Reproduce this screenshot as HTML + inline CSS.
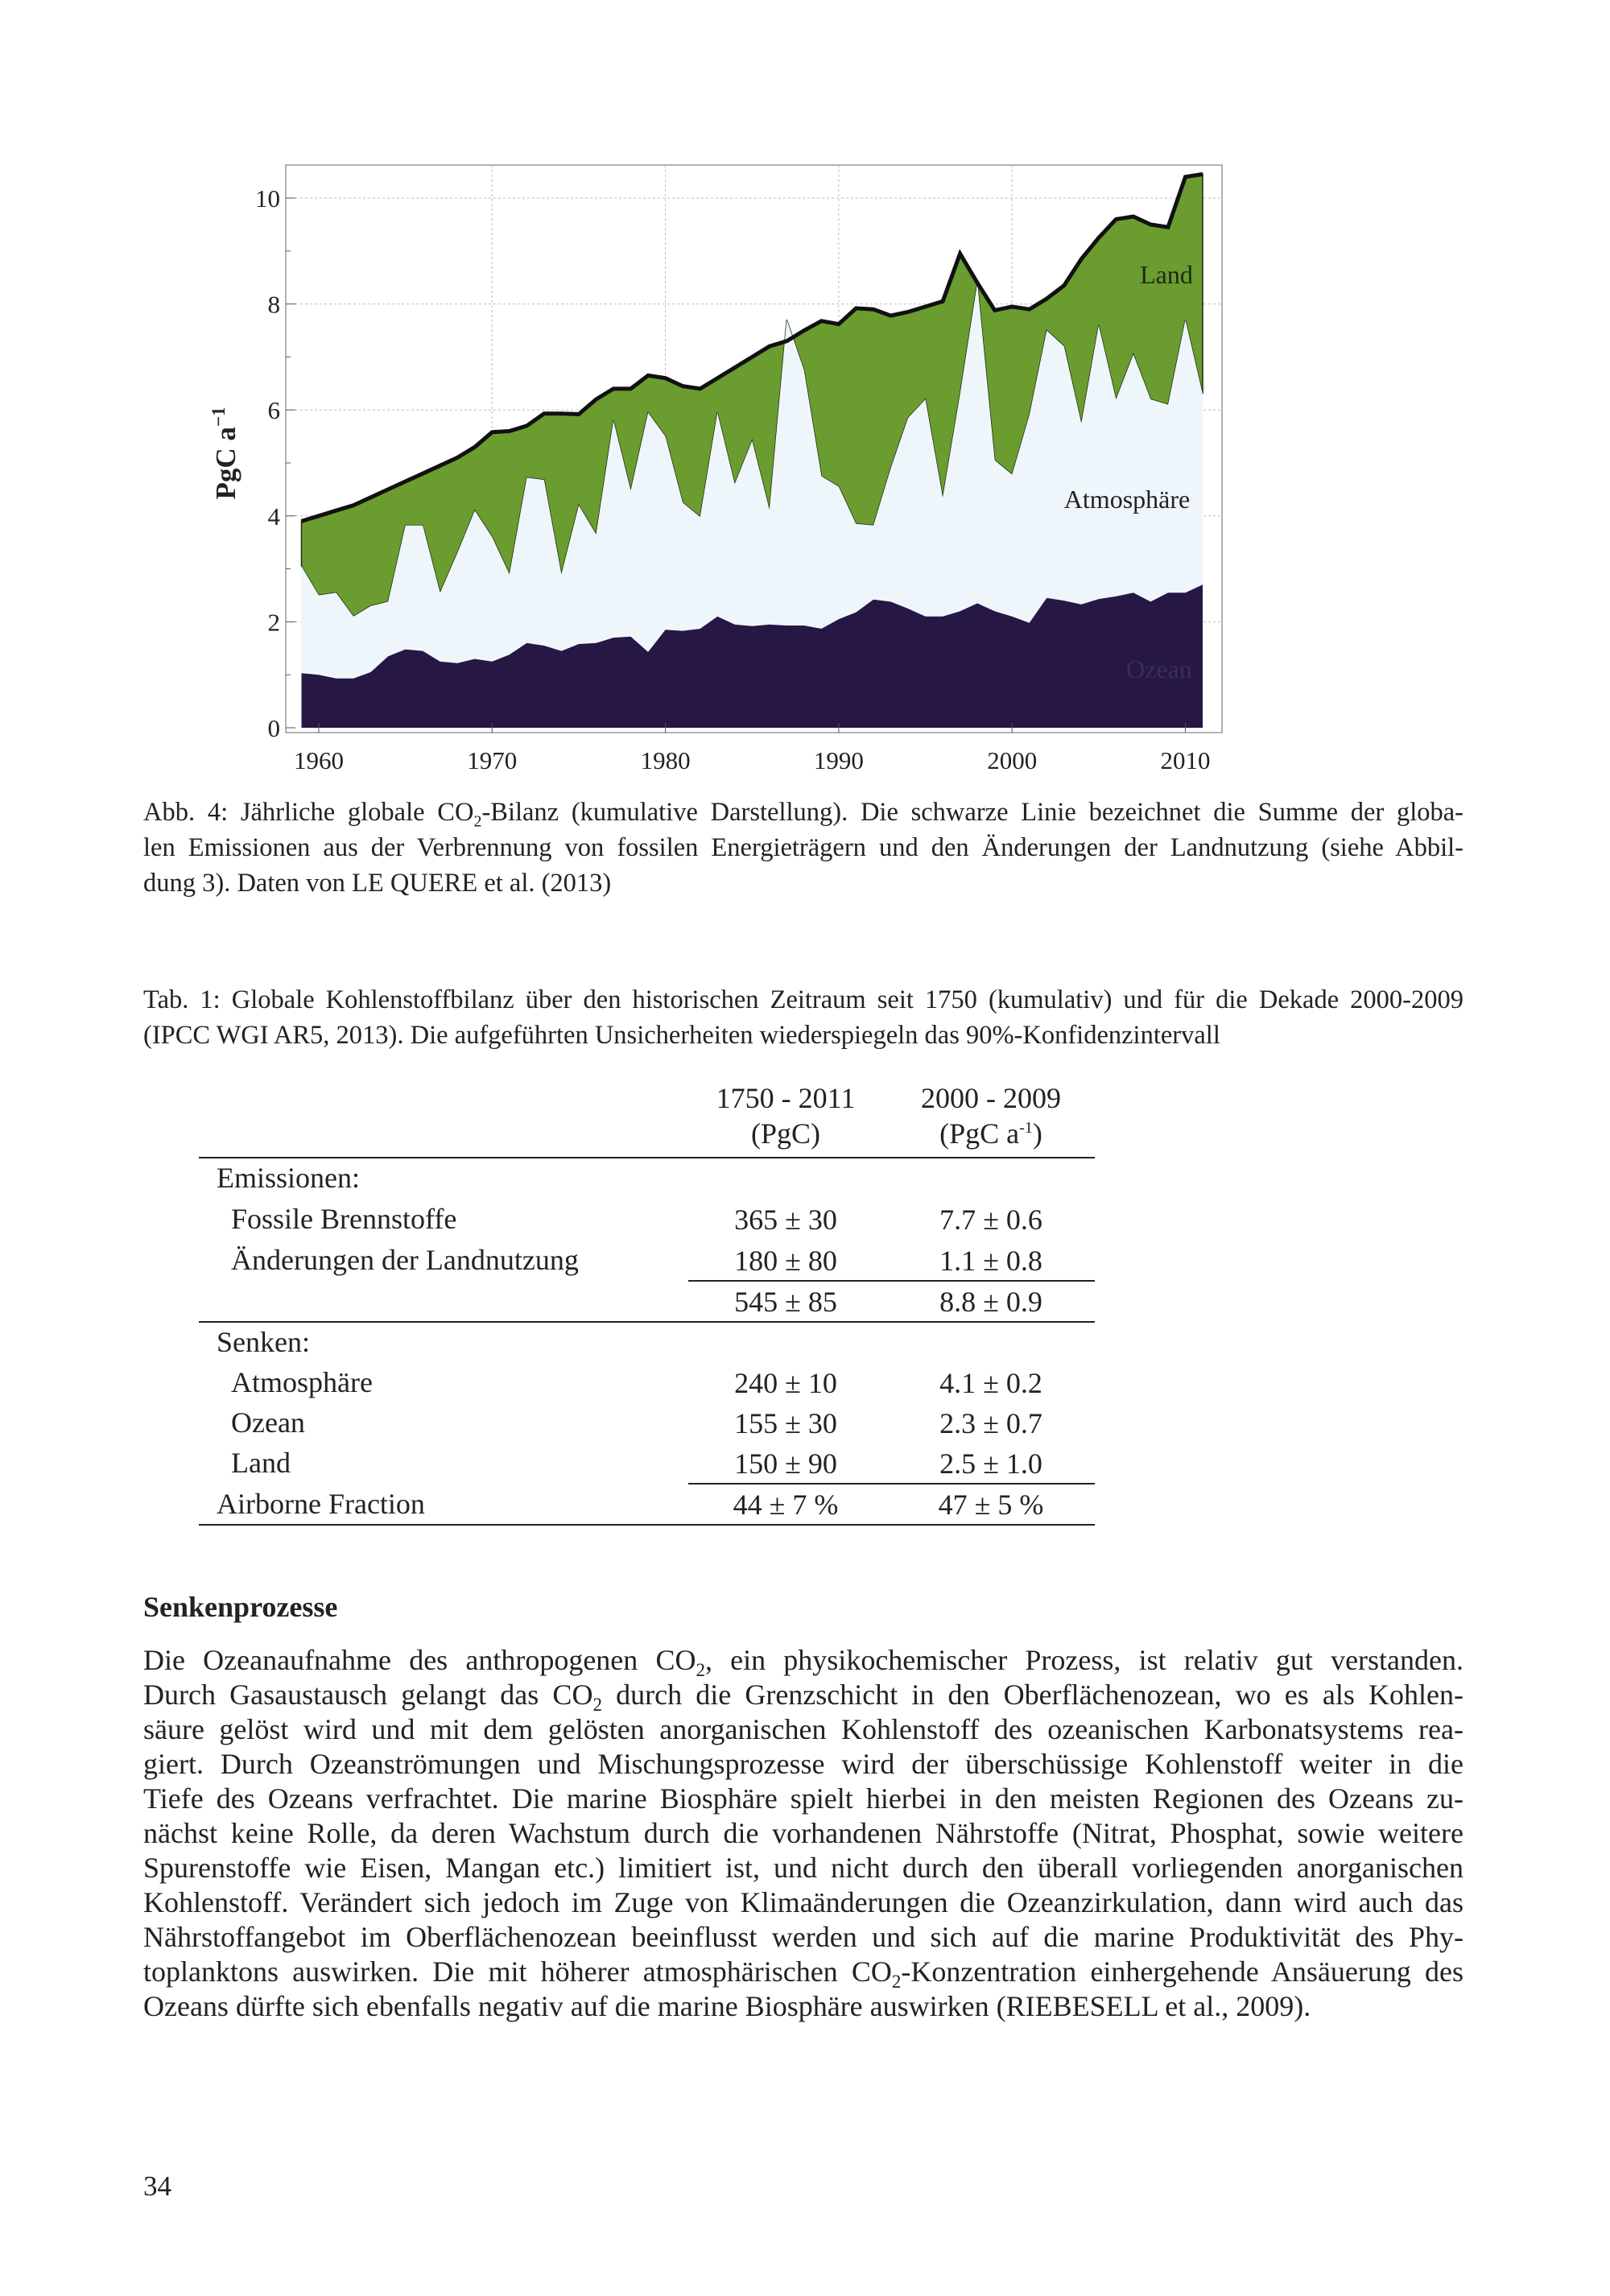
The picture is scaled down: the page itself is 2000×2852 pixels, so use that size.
<!DOCTYPE html>
<html><head><meta charset="utf-8">
<style>
body{margin:0;background:#fff;}
#pg{position:relative;width:2000px;height:2852px;overflow:hidden;background:#fff;font-family:"Liberation Serif",serif;color:#222;}
.t{position:absolute;white-space:nowrap;}
.cap{position:absolute;left:178px;width:1640px;font-size:32.5px;line-height:44px;}
.j{display:block;text-align:justify;text-align-last:justify;}
sub,sup{line-height:0;}
.tb{position:absolute;font-size:36px;line-height:40px;white-space:nowrap;}
.c1{position:absolute;width:300px;margin-left:-150px;text-align:center;font-size:36px;white-space:nowrap;}
.hl{position:absolute;height:2px;background:#222;}
.body{position:absolute;left:178px;width:1640px;font-size:36px;line-height:43px;top:2041px;}
</style></head><body><div id="pg">
<svg id="ch" width="2000" height="1000" style="position:absolute;left:0;top:0" xmlns="http://www.w3.org/2000/svg"></svg>

<div class="cap" style="top:987px">
<span class="j">Abb. 4: Jährliche globale CO<sub style="font-size:20px">2</sub>-Bilanz (kumulative Darstellung). Die schwarze Linie bezeichnet die Summe der globa-</span>
<span class="j">len Emissionen aus der Verbrennung von fossilen Energieträgern und den Änderungen der Landnutzung (siehe Abbil-</span>
<span>dung 3). Daten von LE QUERE et al. (2013)</span>
</div>
<div class="cap" style="top:1220px">
<span class="j">Tab. 1: Globale Kohlenstoffbilanz über den historischen Zeitraum seit 1750 (kumulativ) und für die Dekade 2000-2009</span>
<span>(IPCC WGI AR5, 2013). Die aufgeführten Unsicherheiten wiederspiegeln das 90%-Konfidenzintervall</span>
</div>

<div class="c1" style="left:976px;top:1343px">1750 - 2011</div>
<div class="c1" style="left:1231px;top:1343px">2000 - 2009</div>
<div class="c1" style="left:976px;top:1387px">(PgC)</div>
<div class="c1" style="left:1231px;top:1387px">(PgC a<sup style="font-size:20px">-1</sup>)</div>
<div class="hl" style="left:247px;width:1113px;top:1437px"></div>
<div class="tb" style="left:269px;top:1443px">Emissionen:</div>
<div class="tb" style="left:287px;top:1494px">Fossile Brennstoffe</div>
<div class="c1" style="left:976px;top:1494px">365 ± 30</div><div class="c1" style="left:1231px;top:1494px">7.7 ± 0.6</div>
<div class="tb" style="left:287px;top:1545px">Änderungen der Landnutzung</div>
<div class="c1" style="left:976px;top:1545px">180 ± 80</div><div class="c1" style="left:1231px;top:1545px">1.1 ± 0.8</div>
<div class="hl" style="left:855px;width:505px;top:1590px"></div>
<div class="c1" style="left:976px;top:1596px">545 ± 85</div><div class="c1" style="left:1231px;top:1596px">8.8 ± 0.9</div>
<div class="hl" style="left:247px;width:1113px;top:1641px"></div>
<div class="tb" style="left:269px;top:1647px">Senken:</div>
<div class="tb" style="left:287px;top:1697px">Atmosphäre</div>
<div class="c1" style="left:976px;top:1697px">240 ± 10</div><div class="c1" style="left:1231px;top:1697px">4.1 ± 0.2</div>
<div class="tb" style="left:287px;top:1747px">Ozean</div>
<div class="c1" style="left:976px;top:1747px">155 ± 30</div><div class="c1" style="left:1231px;top:1747px">2.3 ± 0.7</div>
<div class="tb" style="left:287px;top:1797px">Land</div>
<div class="c1" style="left:976px;top:1797px">150 ± 90</div><div class="c1" style="left:1231px;top:1797px">2.5 ± 1.0</div>
<div class="hl" style="left:855px;width:505px;top:1842px"></div>
<div class="tb" style="left:269px;top:1848px">Airborne Fraction</div>
<div class="c1" style="left:976px;top:1848px">44 ± 7 %</div><div class="c1" style="left:1231px;top:1848px">47 ± 5 %</div>
<div class="hl" style="left:247px;width:1113px;top:1893px"></div>

<div class="t" style="left:178px;top:1975px;font-size:36px;font-weight:bold">Senkenprozesse</div>
<div class="body">
<span class="j">Die Ozeanaufnahme des anthropogenen CO<sub style="font-size:23px">2</sub>, ein physikochemischer Prozess, ist relativ gut verstanden.</span>
<span class="j">Durch Gasaustausch gelangt das CO<sub style="font-size:23px">2</sub> durch die Grenzschicht in den Oberflächenozean, wo es als Kohlen-</span>
<span class="j">säure gelöst wird und mit dem gelösten anorganischen Kohlenstoff des ozeanischen Karbonatsystems rea-</span>
<span class="j">giert. Durch Ozeanströmungen und Mischungsprozesse wird der überschüssige Kohlenstoff weiter in die</span>
<span class="j">Tiefe des Ozeans verfrachtet. Die marine Biosphäre spielt hierbei in den meisten Regionen des Ozeans zu-</span>
<span class="j">nächst keine Rolle, da deren Wachstum durch die vorhandenen Nährstoffe (Nitrat, Phosphat, sowie weitere</span>
<span class="j">Spurenstoffe wie Eisen, Mangan etc.) limitiert ist, und nicht durch den überall vorliegenden anorganischen</span>
<span class="j">Kohlenstoff. Verändert sich jedoch im Zuge von Klimaänderungen die Ozeanzirkulation, dann wird auch das</span>
<span class="j">Nährstoffangebot im Oberflächenozean beeinflusst werden und sich auf die marine Produktivität des Phy-</span>
<span class="j">toplanktons auswirken. Die mit höherer atmosphärischen CO<sub style="font-size:23px">2</sub>-Konzentration einhergehende Ansäuerung des</span>
<span>Ozeans dürfte sich ebenfalls negativ auf die marine Biosphäre auswirken (RIEBESELL et al., 2009).</span>
</div>
<div class="t" style="left:178px;top:2696px;font-size:35px">34</div>
</div>
<script>
var tot=[3.9,4.0,4.1,4.2,4.35,4.5,4.65,4.8,4.95,5.1,5.3,5.58,5.6,5.7,5.93,5.93,5.92,6.2,6.4,6.4,6.65,6.6,6.45,6.4,6.6,6.8,7.0,7.2,7.3,7.5,7.68,7.62,7.92,7.9,7.78,7.85,7.95,8.05,8.95,8.4,7.88,7.95,7.9,8.1,8.35,8.85,9.25,9.6,9.65,9.5,9.45,10.4,10.45];
var atm=[3.05,2.5,2.55,2.1,2.3,2.38,3.82,3.82,2.55,3.3,4.1,3.6,2.9,4.72,4.68,2.9,4.2,3.65,5.8,4.48,5.95,5.5,4.25,3.98,5.95,4.6,5.42,4.12,7.7,6.75,4.75,4.55,3.85,3.82,4.9,5.85,6.2,4.35,6.3,8.4,5.05,4.78,5.9,7.5,7.2,5.75,7.6,6.2,7.05,6.2,6.1,7.7,6.3];
var oc=[1.03,1.0,0.93,0.93,1.05,1.35,1.48,1.45,1.25,1.22,1.3,1.25,1.38,1.6,1.55,1.45,1.58,1.6,1.7,1.72,1.43,1.85,1.83,1.87,2.1,1.95,1.92,1.95,1.93,1.93,1.87,2.05,2.18,2.42,2.38,2.25,2.1,2.1,2.2,2.35,2.2,2.1,1.98,2.45,2.4,2.33,2.43,2.48,2.55,2.38,2.55,2.55,2.7];
function X(i){return 396+(i-1)*21.53;}function Y(v){return 904-v*65.8;}
function pts(a){return a.map(function(v,i){return X(i).toFixed(1)+","+Y(v).toFixed(1)}).join(" ");}
function poly(a,b,fill,st){var p=pts(a)+" "+b.slice().reverse().map(function(v,i){return X(b.length-1-i).toFixed(1)+","+Y(v).toFixed(1)}).join(" ");return '<polygon points="'+p+'" fill="'+fill+'" stroke="'+(st||'none')+'" stroke-width="1.5"/>';}
var zero=tot.map(function(){return 0});
var s='';
var L=355,R=1518,T=205,B=910;
s+='<rect x="'+L+'" y="'+T+'" width="'+(R-L)+'" height="'+(B-T)+'" fill="#fff" stroke="#999" stroke-width="1.5"/>';
for(var g=2;g<=10;g+=2)s+='<line x1="'+L+'" x2="'+R+'" y1="'+Y(g)+'" y2="'+Y(g)+'" stroke="#bbb" stroke-dasharray="3,3"/>';
for(var y=1970;y<=2000;y+=10){var x=396+(y-1960)*21.53;s+='<line x1="'+x+'" x2="'+x+'" y1="'+T+'" y2="'+B+'" stroke="#bbb" stroke-dasharray="3,3"/>';}
s+=poly(tot,atm,'#6b9c2f','#1a2a10');
s+=poly(atm,oc,'#eef6fb');
s+=poly(oc,zero,'#261744');
s+='<polyline points="'+pts(tot)+'" fill="none" stroke="#111" stroke-width="5"/>';
for(var v=0;v<=10;v+=2)s+='<text x="348" y="'+(Y(v)+11)+'" font-size="31" text-anchor="end" font-family="Liberation Serif" fill="#222">'+v+'</text><line x1="'+L+'" x2="'+(L+12)+'" y1="'+Y(v)+'" y2="'+Y(v)+'" stroke="#555"/>';
for(var v=1;v<=10;v+=2)s+='<line x1="'+L+'" x2="'+(L+6)+'" y1="'+Y(v)+'" y2="'+Y(v)+'" stroke="#555"/>';
for(var y=1960;y<=2010;y+=10){var x=396+(y-1960)*21.53;s+='<text x="'+x+'" y="955" font-size="31" text-anchor="middle" font-family="Liberation Serif" fill="#222">'+y+'</text><line x1="'+x+'" x2="'+x+'" y1="'+B+'" y2="'+(B-12)+'" stroke="#555"/>';}
s+='<text transform="translate(292,563) rotate(-90)" font-size="35" font-weight="bold" text-anchor="middle" font-family="Liberation Serif" fill="#222">PgC a<tspan dy="-13" font-size="23">−1</tspan></text>';
s+='<text x="1449" y="352" font-size="32" text-anchor="middle" font-family="Liberation Serif" fill="#1e2a10">Land</text>';
s+='<text x="1400" y="631" font-size="32" text-anchor="middle" font-family="Liberation Serif" fill="#222">Atmosphäre</text>';
s+='<text x="1440" y="842" font-size="32" text-anchor="middle" font-family="Liberation Serif" fill="#3a3050">Ozean</text>';
document.getElementById('ch').innerHTML=s;
</script>
</body></html>
